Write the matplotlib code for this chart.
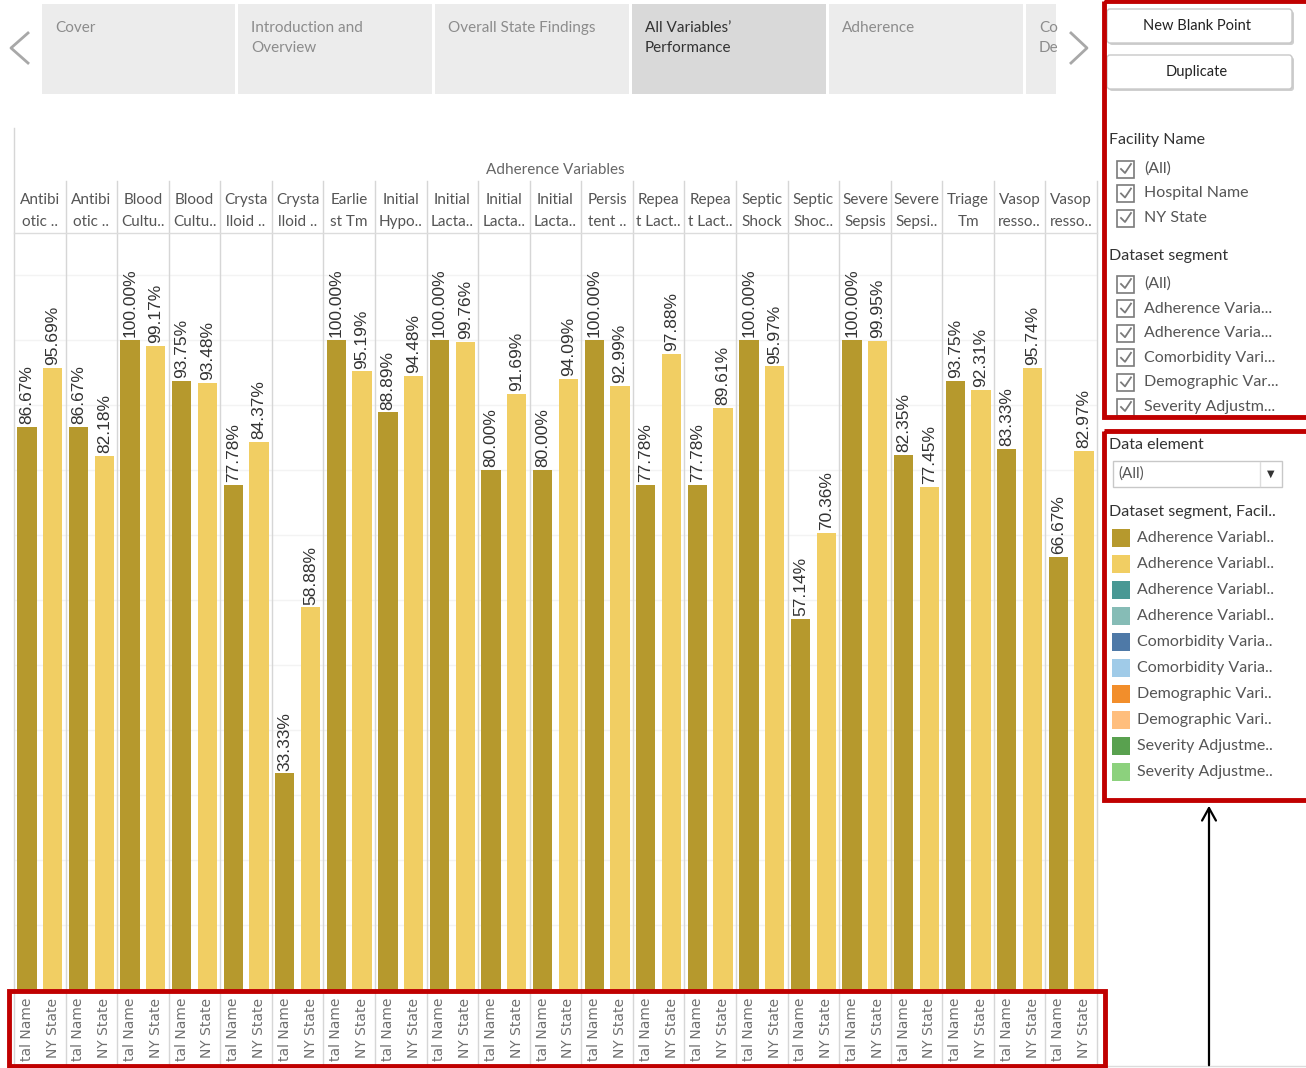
import matplotlib
matplotlib.use("Agg")
import matplotlib.pyplot as plt
import matplotlib.transforms as mtransforms
from matplotlib.patches import Rectangle, FancyBboxPatch

# -----------------------------
# Data
# -----------------------------
pane_top = ["Antibi", "Antibi", "Blood", "Blood", "Crysta", "Crysta", "Earlie",
            "Initial", "Initial", "Initial", "Initial", "Persis", "Repea", "Repea",
            "Septic", "Septic", "Severe", "Severe", "Triage", "Vasop", "Vasop"]
pane_bottom = ["otic ..", "otic ..", "Cultu..", "Cultu..", "lloid ..", "lloid ..", "st Tm",
               "Hypo..", "Lacta..", "Lacta..", "Lacta..", "tent ..", "t Lact..", "t Lact..",
               "Shock", "Shoc..", "Sepsis", "Sepsi..", "Tm", "resso..", "resso.."]
hospital = [86.67, 86.67, 100.00, 93.75, 77.78, 33.33, 100.00, 88.89, 100.00, 80.00, 80.00,
            100.00, 77.78, 77.78, 100.00, 57.14, 100.00, 82.35, 93.75, 83.33, 66.67]
ny_state = [95.69, 82.18, 99.17, 93.48, 84.37, 58.88, 95.19, 94.48, 99.76, 91.69, 94.09,
            92.99, 97.88, 89.61, 95.97, 70.36, 99.95, 77.45, 92.31, 95.74, 82.97]
facility_labels = ["tal Name", "NY State"]

tabs = ["Cover", "Introduction and\nOverview", "Overall State Findings",
        "All Variables\u2019\nPerformance", "Adherence", "Co\nDe"]
facility_items = ["(All)", "Hospital Name", "NY State"]
segment_items = ["(All)", "Adherence Varia...", "Adherence Varia...", "Comorbidity Vari...",
                 "Demographic Var...", "Severity Adjustm..."]
legend_labels = ["Adherence Variabl..", "Adherence Variabl..", "Adherence Variabl..",
                 "Adherence Variabl..", "Comorbidity Varia..", "Comorbidity Varia..",
                 "Demographic Vari..", "Demographic Vari..", "Severity Adjustme..",
                 "Severity Adjustme.."]
legend_colors = ["#B6992D", "#F1CE63", "#499894", "#86BCB6", "#4E79A7", "#A0CBE8",
                 "#F28E2B", "#FFBE7D", "#59A14F", "#8CD17D"]

DARK, LIGHT = "#B6992D", "#F1CE63"
RED = "#C00000"
W, H = 1306, 1068

fig = plt.figure(figsize=(W / 100, H / 100), dpi=100)
fig.patch.set_facecolor("white")

# main bar axes, placed in pixel terms
L, R, T, B = 14, 1097, 233, 990
ax = fig.add_axes([L / W, 1 - B / H, (R - L) / W, (B - T) / H])
ov = fig.add_axes([0, 0, 1, 1], zorder=5)
ov.set_xlim(0, W)
ov.set_ylim(H, 0)
ov.axis("off")

n = len(hospital)
xd = [2 * i + 0.5 for i in range(n)]
xl = [2 * i + 1.5 for i in range(n)]
ax.bar(xd, hospital, width=0.75, color=DARK, zorder=3)
ax.bar(xl, ny_state, width=0.75, color=LIGHT, zorder=3)
for x, v in zip(xd + xl, hospital + ny_state):
    ax.annotate(f"{v:.2f}%", (x, v), xytext=(0, 2), textcoords="offset points",
                rotation=90, ha="center", va="bottom", fontsize=12.5,
                family="Liberation Sans", color="#333333", zorder=4)

ax.set_xlim(0, 2 * n)
ax.set_ylim(0, 116.5)
for s in ax.spines.values():
    s.set_visible(False)
ax.set_xticks([])
ax.set_yticks([])
for g in range(10, 120, 10):
    ax.axhline(g, color="#f3f3f3", lw=1, zorder=1)

# pane separators through header, plot and bottom labels
bt = mtransforms.blended_transform_factory(ax.transData, ov.transData)
for k in range(1, n + 1):
    ov.plot([2 * k, 2 * k], [181, 1066], color="#d6d6d6", lw=1, transform=bt, zorder=1)
ov.plot([L, L], [128, 1066], color="#d6d6d6", lw=1)
ov.plot([L, R], [233, 233], color="#dcdcdc", lw=1)
ov.plot([L, W], [1066, 1066], color="#dcdcdc", lw=1)

ov.text((L + R) / 2, 170, "Adherence Variables", ha="center", va="center",
        fontsize=11, color="#666666", family="Lato")
for i in range(n):
    ov.text(2 * i + 1, 200, pane_top[i], transform=bt, ha="center", va="center",
            fontsize=11, color="#555555", family="Lato")
    ov.text(2 * i + 1, 222, pane_bottom[i], transform=bt, ha="center", va="center",
            fontsize=11, color="#555555", family="Lato")
    for x, lab in zip([2 * i + 0.5, 2 * i + 1.5], facility_labels):
        ov.text(x, 998, lab, transform=bt, rotation=90, ha="center", va="top",
                fontsize=10, color="#707070", family="DejaVu Sans")

# -----------------------------
# Tabs
# -----------------------------
tab_x = [42, 238, 435, 632, 829, 1026]
tab_w = [193, 194, 194, 194, 194, 30]
for i, (x0, w, t) in enumerate(zip(tab_x, tab_w, tabs)):
    active = i == 3
    ov.add_patch(Rectangle((x0, 4), w, 90, facecolor="#d9d9d9" if active else "#ececec",
                           edgecolor="none", zorder=1))
    for j, line in enumerate(t.split("\n")):
        ov.text(x0 + 13, 28 + 20 * j, line, va="center", ha="left", fontsize=11,
                color="#333333" if active else "#8c8c8c", family="Lato", clip_on=True)
ov.plot([28, 11, 28], [33, 48, 63], color="#a8a8a8", lw=2)
ov.plot([1071, 1087, 1071], [33, 48, 63], color="#a8a8a8", lw=2)
ov.add_patch(Rectangle((1057, 0), 12, 95, facecolor="white", edgecolor="none", zorder=2))

# -----------------------------
# Right side panel
# -----------------------------
for y0, label in [(9, "New Blank Point"), (55, "Duplicate")]:
    ov.add_patch(FancyBboxPatch((1109, y0 + 2), 185, 34, boxstyle="round,pad=0,rounding_size=3",
                                facecolor="#cfcfcf", edgecolor="none", zorder=2))
    ov.add_patch(FancyBboxPatch((1107, y0), 185, 34, boxstyle="round,pad=0,rounding_size=3",
                                facecolor="white", edgecolor="#c8c8c8", lw=1, zorder=3))
    ov.text(1197, y0 + 17, label, ha="center", va="center", fontsize=10.5,
            color="#222222", family="Lato", zorder=4)


def checkbox(y, label):
    ov.add_patch(Rectangle((1117, y - 8.5), 17, 17, facecolor="white",
                           edgecolor="#7a7a7a", lw=1.2, zorder=3))
    ov.plot([1121, 1125, 1131], [y, y + 4, y - 5], color="#7a7a7a", lw=1.3, zorder=4)
    ov.text(1144, y, label, va="center", ha="left", fontsize=11.5, color="#555555",
            family="Lato", zorder=4)


ov.text(1109, 140, "Facility Name", va="center", ha="left", fontsize=11.5,
        color="#333333", family="Lato")
for k, lab in enumerate(facility_items):
    checkbox(169 + 24.5 * k, lab)
ov.text(1109, 256, "Dataset segment", va="center", ha="left", fontsize=11.5,
        color="#333333", family="Lato")
for k, lab in enumerate(segment_items):
    checkbox(284 + 24.6 * k, lab)
ov.add_patch(Rectangle((1100, 417), 206, 12, facecolor="white", edgecolor="none", zorder=5))

ov.text(1109, 445, "Data element", va="center", ha="left", fontsize=11.5,
        color="#333333", family="Lato")
ov.add_patch(Rectangle((1113, 461), 169, 26, facecolor="white", edgecolor="#c8c8c8",
                       lw=1, zorder=3))
ov.plot([1260, 1260], [462, 486], color="#dddddd", lw=1, zorder=4)
ov.text(1118, 474, "(All)", va="center", ha="left", fontsize=11, color="#555555",
        family="Lato", zorder=4)
ov.text(1271, 474, "\u25BC", va="center", ha="center", fontsize=7, color="#333333", zorder=4)
ov.text(1109, 512, "Dataset segment, Facil..", va="center", ha="left", fontsize=11.5,
        color="#333333", family="Lato")
for k, (lab, col) in enumerate(zip(legend_labels, legend_colors)):
    y = 538 + 26 * k
    ov.add_patch(Rectangle((1112, y - 9), 18, 18, facecolor=col, edgecolor="none", zorder=3))
    ov.text(1137, y, lab, va="center", ha="left", fontsize=11.5, color="#555555",
            family="Lato", zorder=4)

# red highlight boxes
ov.add_patch(Rectangle((1104, 1), 210, 416, facecolor="none", edgecolor=RED, lw=3.5, zorder=6))
ov.add_patch(Rectangle((1104, 431), 210, 369, facecolor="none", edgecolor=RED, lw=3.5, zorder=6))
ov.add_patch(Rectangle((9, 991), 1096, 75, facecolor="none", edgecolor=RED, lw=3.5, zorder=6))

# arrow pointing at the legend box
ov.annotate("", xy=(1209, 803), xytext=(1209, 1068),
            arrowprops=dict(arrowstyle="->,head_length=0.9,head_width=0.5", color="black", lw=1.6))

fig.savefig("out.png", dpi=100)
